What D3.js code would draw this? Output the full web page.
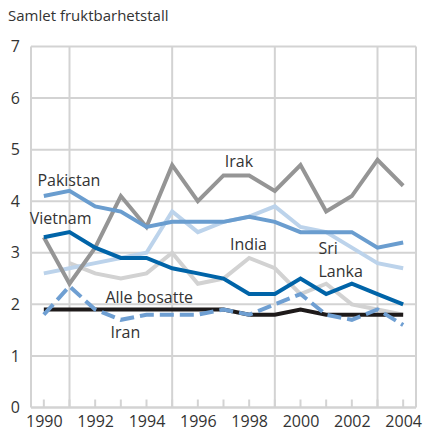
<!DOCTYPE html>
<html>
<head>
<meta charset="utf-8">
<script src="https://cdn.jsdelivr.net/npm/d3@7"></script>
<style>
  body { margin: 0; background: #fff; }
  text { font-family: "Open Sans", "Noto Sans", sans-serif; fill: #333; }
</style>
</head>
<body>
<div id="root"></div>
<script>
const years = d3.range(1990, 2005);
const yTicks = [0, 1, 2, 3, 4, 5, 6, 7];
const xTickLabels = [1990, 1992, 1994, 1996, 1998, 2000, 2002, 2004];

const india = [null, 2.8, 2.6, 2.5, 2.6, 3.0, 2.4, 2.5, 2.9, 2.7, 2.2, 2.4, 2.0, 1.9, 1.8];
const sriLanka = [2.6, 2.7, 2.8, 2.9, 3.0, 3.8, 3.4, 3.6, 3.7, 3.9, 3.5, 3.4, 3.1, 2.8, 2.7];
const irak = [3.3, 2.4, 3.1, 4.1, 3.5, 4.7, 4.0, 4.5, 4.5, 4.2, 4.7, 3.8, 4.1, 4.8, 4.3];
const pakistan = [4.1, 4.2, 3.9, 3.8, 3.5, 3.6, 3.6, 3.6, 3.7, 3.6, 3.4, 3.4, 3.4, 3.1, 3.2];
const vietnam = [3.3, 3.4, 3.1, 2.9, 2.9, 2.7, 2.6, 2.5, 2.2, 2.2, 2.5, 2.2, 2.4, 2.2, 2.0];
const alleBosatte = [1.9, 1.9, 1.9, 1.9, 1.9, 1.9, 1.9, 1.9, 1.8, 1.8, 1.9, 1.8, 1.8, 1.8, 1.8];
const iran = [1.8, 2.35, 1.9, 1.7, 1.8, 1.8, 1.8, 1.9, 1.8, 2.0, 2.2, 1.8, 1.7, 1.9, 1.6];

const series = [
  { name: 'India', values: india, color: '#d2d2d2' },
  { name: 'Sri Lanka', values: sriLanka, color: '#bcd3eb' },
  { name: 'Irak', values: irak, color: '#959595' },
  { name: 'Pakistan', values: pakistan, color: '#6a9dcf' },
  { name: 'Vietnam', values: vietnam, color: '#0064a8' },
  { name: 'Alle bosatte', values: alleBosatte, color: '#1e1a1a' },
  { name: 'Iran', values: iran, color: '#6f9fd2', dash: '14 6' },
];

// one entry per text line
const labels = [
  { text: 'Pakistan', year: 1989.75, value: 4.3 },
  { text: 'Vietnam', year: 1989.45, value: 3.55 },
  { text: 'Irak', year: 1997.05, value: 4.67 },
  { text: 'India', year: 1997.25, value: 3.05 },
  { text: 'Sri', year: 2000.7, value: 2.98 },
  { text: 'Lanka', year: 2000.7, value: 2.53 },
  { text: 'Alle bosatte', year: 1992.4, value: 2.02 },
  { text: 'Iran', year: 1992.6, value: 1.35 },
];

const width = 425;
const height = 435;
const margin = { top: 46.5, right: 9, bottom: 27.5, left: 31 };

const svg = d3.select('#root').append('svg')
  .attr('width', width)
  .attr('height', height);

const xScale = d3.scaleLinear()
  .domain([1989.5, 2004.5])
  .range([margin.left, width - margin.right]);

const yScale = d3.scaleLinear()
  .domain([0, 7])
  .range([height - margin.bottom, margin.top]);

const gridColor = '#d3d3d3';

svg.append('text')
  .attr('x', 8)
  .attr('y', 21)
  .style('font-size', '15px')
  .text('Samlet fruktbarhetstall');

// horizontal gridlines
svg.append('g')
  .selectAll('line')
  .data(yTicks)
  .enter()
  .append('line')
  .attr('x1', xScale(1989.5))
  .attr('x2', xScale(2004.5))
  .attr('y1', d => yScale(d))
  .attr('y2', d => yScale(d))
  .attr('stroke', gridColor)
  .attr('stroke-width', d => d === 0 ? 2.5 : 2);

// vertical gridlines
svg.append('g')
  .selectAll('line')
  .data([1989.5, 1991, 1995, 1999, 2003, 2004.5])
  .enter()
  .append('line')
  .attr('x1', d => xScale(d))
  .attr('x2', d => xScale(d))
  .attr('y1', yScale(7))
  .attr('y2', yScale(0))
  .attr('stroke', gridColor)
  .attr('stroke-width', 2);

// x axis
const xAxis = d3.axisBottom(xScale)
  .tickValues(years)
  .tickSize(0)
  .tickPadding(8)
  .tickFormat(d => xTickLabels.includes(d) ? d : '');

svg.append('g')
  .attr('transform', `translate(0, ${yScale(0)})`)
  .call(xAxis)
  .call(g => g.select('.domain').remove())
  .call(g => g.selectAll('text').style('font-size', '16px').attr('fill', '#333'));

svg.append('g')
  .selectAll('line')
  .data(years)
  .enter()
  .append('line')
  .attr('x1', d => xScale(d))
  .attr('x2', d => xScale(d))
  .attr('y1', yScale(0))
  .attr('y2', yScale(0) - 8)
  .attr('stroke', gridColor)
  .attr('stroke-width', 2);

// y axis
const yAxis = d3.axisLeft(yScale)
  .tickValues(yTicks)
  .tickSize(0)
  .tickPadding(11)
  .tickFormat(d3.format('d'));

svg.append('g')
  .attr('transform', `translate(${margin.left}, 0)`)
  .call(yAxis)
  .call(g => g.select('.domain').remove())
  .call(g => g.selectAll('text').style('font-size', '16px').attr('fill', '#333'));

const line = d3.line()
  .defined(d => d.value !== null)
  .x(d => xScale(d.year))
  .y(d => yScale(d.value));

svg.append('g')
  .selectAll('path')
  .data(series)
  .enter()
  .append('path')
  .attr('d', s => line(years.map((year, i) => ({ year, value: s.values[i] }))))
  .attr('fill', 'none')
  .attr('stroke', s => s.color)
  .attr('stroke-width', 4)
  .attr('stroke-linejoin', 'miter')
  .attr('stroke-dasharray', s => s.dash || null);

svg.append('g')
  .selectAll('text')
  .data(labels)
  .enter()
  .append('text')
  .attr('x', d => xScale(d.year))
  .attr('y', d => yScale(d.value))
  .style('font-size', '16px')
  .text(d => d.text);
</script>
</body>
</html>
